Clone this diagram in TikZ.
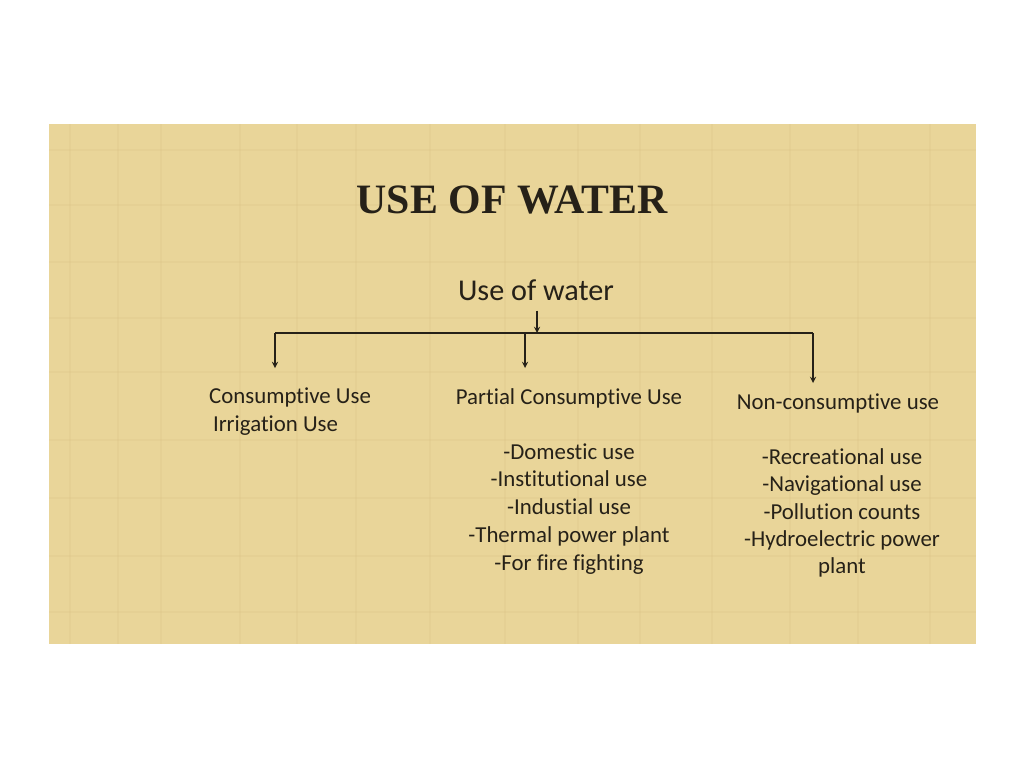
\documentclass[tikz,border=0pt]{standalone}
\usepackage{fontspec}
\setmainfont{Carlito}[Ligatures={NoCommon}]
\newfontfamily\titlefont{Liberation Serif}
\definecolor{paper}{RGB}{233,213,153}
\definecolor{weave}{RGB}{214,190,128}
\definecolor{ink}{RGB}{38,33,24}
\begin{document}
\begin{tikzpicture}
      [x=0.02cm, y=-0.02cm, every node/.style={text=ink}]
      \useasboundingbox (0, 0) rectangle (1024, 768);
      \fill[white] (0, 0) rectangle (1024, 768);
      \fill[paper] (49, 124) rectangle (976, 644);
      % faint weave of the paper
      \foreach \x in {70, 118, 161, 240, 297, 356, 430, 505, 578, 640, 712, 790, 858, 930}
        \draw[weave, line width=1.2pt, opacity=0.18] (\x, 124) -- (\x, 644);
      \foreach \y in {150, 205, 262, 318, 372, 440, 498, 556, 612}
        \draw[weave, line width=1.2pt, opacity=0.18] (49, \y) -- (976, \y);

      \node[font=\titlefont\bfseries\fontsize{23.8}{26}\selectfont] (title) at (512, 200) {USE OF WATER};
      \node[font=\fontsize{17.2}{20}\selectfont] (usewater) at (536, 290) {Use of water};

      \coordinate (hub) at (537, 333);
      \coordinate (barL) at (275, 333);
      \coordinate (barM) at (525, 333);
      \coordinate (barR) at (813, 333);
      \coordinate (tipL) at (275, 368);
      \coordinate (tipM) at (525, 368);
      \coordinate (tipR) at (813, 383);

      \draw[->, >=stealth, ink, line width=0.6pt] (usewater.south -| hub) ++(0, 4) -- (hub);
      \draw[ink, line width=0.8pt] (barL) -- (barR);
      \draw[->, >=stealth, ink, line width=0.6pt] (barL) -- (tipL);
      \draw[->, >=stealth, ink, line width=0.6pt] (barM) -- (tipM);
      \draw[->, >=stealth, ink, line width=0.6pt] (barR) -- (tipR);

      \node[anchor=west, align=left, font=\fontsize{13}{15.9}\selectfont] (consumptive) at (203, 412)
        {Consumptive Use\\ \,Irrigation Use};
      \node[font=\fontsize{13}{15.9}\selectfont] (partial) at (569, 398) {Partial Consumptive Use};
      \node[font=\fontsize{13}{15.9}\selectfont] (noncons) at (838, 403) {Non-consumptive use};

      \node[align=center, font=\fontsize{13}{15.9}\selectfont] (partlist) at (569, 509)
        {-Domestic use\\ -Institutional use\\ -Industial use\\ -Thermal power plant\\ -For fire fighting};
      \node[align=center, font=\fontsize{13}{15.6}\selectfont] (nonlist) at (842, 513)
        {-Recreational use\\ -Navigational use\\ -Pollution counts\\ -Hydroelectric power\\ plant};
    \end{tikzpicture}
\end{document}
